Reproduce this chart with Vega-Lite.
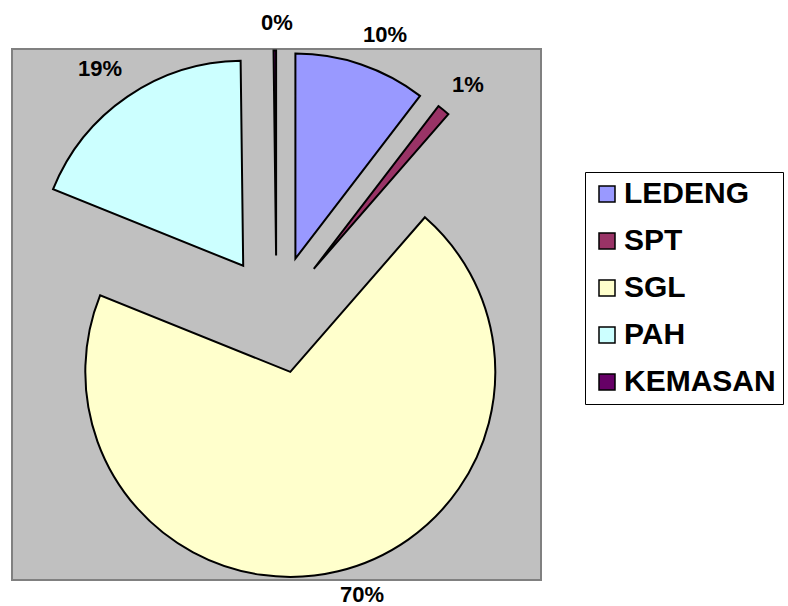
{
  "$schema": "https://vega.github.io/schema/vega-lite/v6.json",
  "width": 529,
  "height": 531,
  "autosize": "none",
  "padding": {"left": 12, "top": 49, "right": 247, "bottom": 26},
  "background": "white",
  "view": {"fill": "#C0C0C0", "stroke": "#808080", "strokeWidth": 2},
  "data": {
    "values": [
      {"name": "LEDENG", "value": 10.4},
      {"name": "SPT", "value": 1.0},
      {"name": "SGL", "value": 69.7},
      {"name": "PAH", "value": 18.7},
      {"name": "KEMASAN", "value": 0.2}
    ]
  },
  "transform": [
    {"window": [{"op": "sum", "field": "value", "as": "end"}], "frame": [null, 0]},
    {"calculate": "datum.end - datum.value", "as": "start"},
    {"calculate": "datum.end - datum.value / 2", "as": "mid"},
    {"calculate": "datum.value / 100", "as": "pct"}
  ],
  "encoding": {
    "color": {
      "field": "name",
      "type": "nominal",
      "scale": {
        "domain": ["LEDENG", "SPT", "SGL", "PAH", "KEMASAN"],
        "range": ["#9999FF", "#993366", "#FFFFCC", "#CCFFFF", "#660066"]
      },
      "legend": {
        "orient": "none",
        "legendX": 573,
        "legendY": 123,
        "title": null,
        "strokeColor": "black",
        "fillColor": "white",
        "padding": 7,
        "symbolType": "square",
        "symbolSize": 256,
        "symbolStrokeColor": "black",
        "symbolStrokeWidth": 1.5,
        "symbolOpacity": 1,
        "labelFont": "Liberation Sans",
        "labelFontWeight": "bold",
        "labelFontSize": 30,
        "labelColor": "black",
        "labelOffset": 2,
        "rowPadding": 17
      }
    }
  },
  "layer": [
    {
      "transform": [{"filter": "datum.name === 'LEDENG'"}],
      "layer": [
        {"mark": {"type": "arc", "radius": 205, "stroke": "black", "strokeWidth": 2, "xOffset": 18.9, "yOffset": -55.9},
         "encoding": {"theta": {"field": "start", "type": "quantitative", "scale": {"domain": [0, 100]}}, "theta2": {"field": "end"}}},
        {"mark": {"type": "text", "radius": 290, "dx": 15.4, "dy": -4.8, "font": "Liberation Sans", "fontWeight": "bold", "fontSize": 22, "baseline": "middle", "align": "center"},
         "encoding": {"theta": {"field": "mid", "type": "quantitative", "stack": null, "scale": {"domain": [0, 100]}}, "text": {"field": "pct", "type": "quantitative", "format": ".0%"}, "color": {"value": "black"}}}
      ]
    },
    {
      "transform": [{"filter": "datum.name === 'SPT'"}],
      "layer": [
        {"mark": {"type": "arc", "radius": 205, "stroke": "black", "strokeWidth": 2, "xOffset": 37.3, "yOffset": -45.7},
         "encoding": {"theta": {"field": "start", "type": "quantitative", "scale": {"domain": [0, 100]}}, "theta2": {"field": "end"}}},
        {"mark": {"type": "text", "radius": 290, "dx": 8, "dy": -5, "font": "Liberation Sans", "fontWeight": "bold", "fontSize": 22, "baseline": "middle", "align": "center"},
         "encoding": {"theta": {"field": "mid", "type": "quantitative", "stack": null, "scale": {"domain": [0, 100]}}, "text": {"field": "pct", "type": "quantitative", "format": ".0%"}, "color": {"value": "black"}}}
      ]
    },
    {
      "transform": [{"filter": "datum.name === 'SGL'"}],
      "layer": [
        {"mark": {"type": "arc", "radius": 205, "stroke": "black", "strokeWidth": 2, "xOffset": 13.8, "yOffset": 57.4},
         "encoding": {"theta": {"field": "start", "type": "quantitative", "scale": {"domain": [0, 100]}}, "theta2": {"field": "end"}}},
        {"mark": {"type": "text", "radius": 290, "dx": 17.8, "dy": -1.5, "font": "Liberation Sans", "fontWeight": "bold", "fontSize": 22, "baseline": "middle", "align": "center"},
         "encoding": {"theta": {"field": "mid", "type": "quantitative", "stack": null, "scale": {"domain": [0, 100]}}, "text": {"field": "pct", "type": "quantitative", "format": ".0%"}, "color": {"value": "black"}}}
      ]
    },
    {
      "transform": [{"filter": "datum.name === 'PAH'"}],
      "layer": [
        {"mark": {"type": "arc", "radius": 205, "stroke": "black", "strokeWidth": 2, "xOffset": -33.3, "yOffset": -48.7},
         "encoding": {"theta": {"field": "start", "type": "quantitative", "scale": {"domain": [0, 100]}}, "theta2": {"field": "end"}}},
        {"mark": {"type": "text", "radius": 290, "dx": -12.7, "dy": -6.2, "font": "Liberation Sans", "fontWeight": "bold", "fontSize": 22, "baseline": "middle", "align": "center"},
         "encoding": {"theta": {"field": "mid", "type": "quantitative", "stack": null, "scale": {"domain": [0, 100]}}, "text": {"field": "pct", "type": "quantitative", "format": ".0%"}, "color": {"value": "black"}}}
      ]
    },
    {
      "transform": [{"filter": "datum.name === 'KEMASAN'"}],
      "layer": [
        {"mark": {"type": "arc", "radius": 205, "stroke": "black", "strokeWidth": 2, "xOffset": -0.4, "yOffset": -59},
         "encoding": {"theta": {"field": "start", "type": "quantitative", "scale": {"domain": [0, 100]}}, "theta2": {"field": "end"}}},
        {"mark": {"type": "text", "radius": 290, "dx": 2.3, "dy": -1.5, "font": "Liberation Sans", "fontWeight": "bold", "fontSize": 22, "baseline": "middle", "align": "center"},
         "encoding": {"theta": {"field": "mid", "type": "quantitative", "stack": null, "scale": {"domain": [0, 100]}}, "text": {"field": "pct", "type": "quantitative", "format": ".0%"}, "color": {"value": "black"}}}
      ]
    }
  ]
}
